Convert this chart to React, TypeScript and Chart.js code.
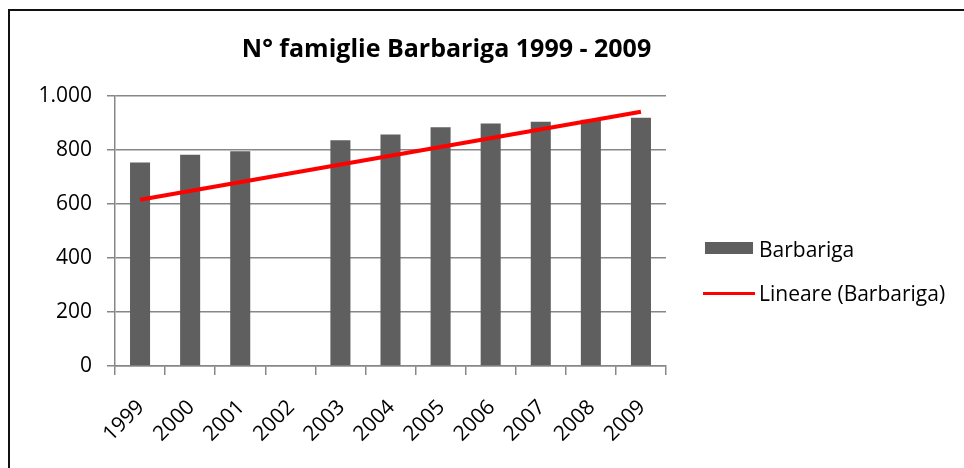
import { useEffect, useRef } from 'react';
import { Chart, registerables } from 'chart.js';

Chart.register(...registerables);

const years = ['1999', '2000', '2001', '2002', '2003', '2004', '2005', '2006', '2007', '2008', '2009'];
const families = [754, 782, 795, null, 836, 857, 884, 898, 905, 912, 919];
const trendValues = [616, null, null, null, null, null, null, null, null, null, 942];
const yMin = 0;
const yMax = 1000;
const yStep = 200;
const titleText = 'N° famiglie Barbariga 1999 - 2009';
const seriesLabel = 'Barbariga';
const trendLabel = 'Lineare (Barbariga)';

const FONT = '"Open Sans", "Noto Sans", sans-serif';
const GRID = '#878787';
const BAR = '#5f5f5f';
const RED = '#ff0000';

const fmtIt = (v: number) => String(v).replace(/\B(?=(\d{3})+(?!\d))/g, '.');

const titlePlugin = {
  id: 'excelTitle',
  afterDraw(chart: any) {
    const ctx = chart.ctx;
    ctx.save();
    ctx.font = `bold 25px ${FONT}`;
    ctx.fillStyle = '#000';
    ctx.textAlign = 'center';
    ctx.textBaseline = 'alphabetic';
    ctx.fillText(titleText, 446.5, 57);
    ctx.restore();
  },
};

const legendPlugin = {
  id: 'excelLegend',
  afterDraw(chart: any) {
    const ctx = chart.ctx;
    const a = chart.chartArea;
    const x0 = a.right + 39;
    ctx.save();
    ctx.fillStyle = BAR;
    ctx.fillRect(x0, 242, 48, 12);
    ctx.font = `21px ${FONT}`;
    ctx.fillStyle = '#000';
    ctx.textAlign = 'left';
    ctx.textBaseline = 'alphabetic';
    ctx.fillText(chart.data.datasets[0].label, x0 + 54, 257);
    ctx.strokeStyle = RED;
    ctx.lineWidth = 3;
    ctx.beginPath();
    ctx.moveTo(x0 - 2, 293.5);
    ctx.lineTo(x0 + 50, 293.5);
    ctx.stroke();
    ctx.fillText(chart.data.datasets[1].label, x0 + 54, 300.5);
    ctx.restore();
  },
};

export default function App() {
  const ref = useRef<HTMLCanvasElement | null>(null);

  useEffect(() => {
    if (!ref.current) return;
    const chart = new Chart(ref.current, {
      type: 'bar',
      data: {
        labels: years,
        datasets: [
          {
            type: 'bar',
            label: seriesLabel,
            data: families,
            backgroundColor: BAR,
            borderWidth: 0,
            categoryPercentage: 1,
            barPercentage: 0.4,
            order: 2,
          } as any,
          {
            type: 'line',
            label: trendLabel,
            data: trendValues,
            borderColor: RED,
            backgroundColor: RED,
            borderWidth: 4,
            pointRadius: 0,
            spanGaps: true,
            fill: false,
            tension: 0,
            order: 1,
          } as any,
        ],
      },
      options: {
        responsive: false,
        animation: false,
        devicePixelRatio: 1,
        layout: { padding: { top: 96, right: 298, left: 0, bottom: 0 } },
        plugins: {
          legend: { display: false },
          title: { display: false },
          tooltip: { enabled: false },
        },
        scales: {
          x: {
            type: 'category',
            offset: true,
            grid: {
              offset: true,
              drawOnChartArea: false,
              drawTicks: true,
              tickLength: 9,
              color: GRID,
              lineWidth: 1.5,
            },
            border: { display: true, color: GRID, width: 1.5 },
            ticks: {
              autoSkip: false,
              minRotation: 45,
              maxRotation: 45,
              padding: 20,
              labelOffset: 1,
              color: '#000',
              font: { family: FONT, size: 21 },
            },
            afterFit(scale: any) {
              scale.height = 102;
            },
          },
          y: {
            min: yMin,
            max: yMax,
            ticks: {
              stepSize: yStep,
              padding: 15,
              color: '#000',
              font: { family: FONT, size: 21 },
              callback: (v: any) => fmtIt(Number(v)),
            },
            grid: {
              color: GRID,
              lineWidth: 1.5,
              tickLength: 8,
            },
            border: { display: true, color: GRID, width: 1.5 },
            afterFit(scale: any) {
              scale.width = 115;
            },
          },
        },
      },
      plugins: [titlePlugin, legendPlugin],
    });
    return () => chart.destroy();
  }, []);

  return (
    <div style={{ position: 'fixed', left: 0, top: 0, width: 964, height: 468, background: '#fff', overflow: 'hidden' }}>
      <div
        style={{
          position: 'absolute',
          left: 7.5,
          top: 9,
          width: 1000,
          height: 1000,
          borderLeft: '2.5px solid #111',
          borderTop: '2px solid #111',
        }}
      />
      <canvas ref={ref} width={964} height={468} style={{ position: 'absolute', left: 0, top: 0, width: 964, height: 468 }} />
    </div>
  );
}
